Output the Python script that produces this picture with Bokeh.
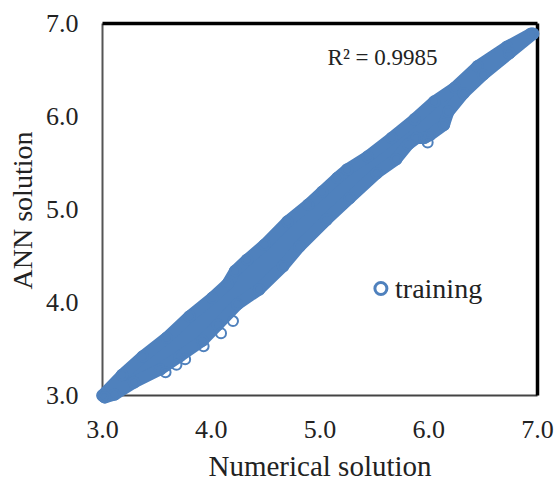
from bokeh.plotting import figure
from bokeh.models import Range1d, FixedTicker, ColumnDataSource
from bokeh.core.properties import value
from bokeh.embed import file_html
from bokeh.resources import INLINE

upper_x = [3.00, 3.18, 3.37, 3.59, 3.80, 4.01, 4.15, 4.22, 4.33, 4.49, 4.70, 4.89, 5.02, 5.16, 5.25, 5.44, 5.66, 5.87, 6.05, 6.24, 6.45, 6.72, 6.94]
upper_y = [3.00, 3.22, 3.42, 3.62, 3.85, 4.05, 4.20, 4.34, 4.46, 4.62, 4.87, 5.05, 5.19, 5.34, 5.43, 5.57, 5.77, 5.97, 6.16, 6.31, 6.54, 6.75, 6.89]
lower_x = [6.96, 6.74, 6.50, 6.32, 6.18, 6.14, 6.01, 5.96, 5.89, 5.81, 5.70, 5.52, 5.27, 5.06, 4.81, 4.66, 4.44, 4.24, 4.06, 3.92, 3.71, 3.53, 3.29, 3.11, 3.02]
lower_y = [6.89, 6.68, 6.45, 6.25, 6.05, 5.91, 5.80, 5.77, 5.77, 5.70, 5.54, 5.39, 5.12, 4.89, 4.60, 4.39, 4.14, 3.98, 3.76, 3.59, 3.42, 3.28, 3.14, 3.01, 2.98]
outlier_x = [3.58, 3.68, 3.76, 3.93, 4.09, 4.20, 5.99]
outlier_y = [3.25, 3.33, 3.39, 3.53, 3.67, 3.80, 5.72]
ticks = [3, 4, 5, 6, 7]
tick_labels = {3: "3.0", 4: "4.0", 5: "5.0", 6: "6.0", 7: "7.0"}
box_low, box_high = 3.0, 7.0

BLUE = "#4f81bd"
SERIF = "Liberation Serif"

p = figure(width=555, height=484, output_backend="svg", toolbar_location=None,
           x_range=Range1d(3 - 8 / 108.75, 7 + 8 / 108.75),
           y_range=Range1d(3 - 10 / 93, 7 + 8 / 93),
           min_border_left=94, min_border_right=10, min_border_top=15, min_border_bottom=79)
p.outline_line_color = None
p.grid.visible = False

for ax, label, standoff, size in ((p.xaxis[0], "Numerical solution", 9, "29px"), (p.yaxis[0], "ANN solution", 5, "28px")):
    ax.ticker = FixedTicker(ticks=ticks)
    ax.major_label_overrides = tick_labels
    ax.axis_line_color = None
    ax.major_tick_line_color = None
    ax.minor_tick_line_color = None
    ax.major_tick_in = 0
    ax.major_tick_out = 0
    ax.major_label_text_font = SERIF
    ax.major_label_text_font_size = "26px"
    ax.major_label_text_color = "#222222"
    ax.axis_label = label
    ax.axis_label_text_font = SERIF
    ax.axis_label_text_font_size = size
    ax.axis_label_text_font_style = "normal"
    ax.axis_label_text_color = "#222222"
    ax.axis_label_standoff = standoff
p.xaxis[0].major_label_standoff = 15
p.yaxis[0].major_label_standoff = 16

# plot box
p.line([box_low, box_low], [box_low, box_high], line_color="#555555", line_width=2)
p.line([box_low, box_high], [box_low, box_low], line_color="#444444", line_width=2)
p.line([box_low, box_high], [box_high, box_high], line_color="#000000", line_width=3.5)
p.line([box_high, box_high], [box_low, box_high], line_color="#000000", line_width=3.5)

# densely overlapped markers read as a solid band
p.patch(upper_x + lower_x, upper_y + lower_y, fill_color=BLUE, line_color=BLUE, line_width=12, line_join="round")
src = ColumnDataSource(dict(x=upper_x + lower_x, y=upper_y + lower_y))
p.scatter("x", "y", source=src, marker="circle", size=10, fill_color=None,
          line_color=BLUE, line_width=2.5)
p.scatter(outlier_x, outlier_y, marker="circle", size=10, fill_color=None,
          line_color=BLUE, line_width=2)

p.scatter([5.56], [4.15], marker="circle", size=12, fill_color=None, line_color=BLUE, line_width=3)
p.text([5.69], [4.15], text=["training"], text_font=value(SERIF), text_font_size="28px",
       text_baseline="middle", text_color="#222222")
p.text([5.07], [6.63], text=["R² = 0.9985"], text_font=value(SERIF), text_font_size="23px",
       text_baseline="middle", text_color="#222222")

open("out.html", "w").write(file_html(p, INLINE))
